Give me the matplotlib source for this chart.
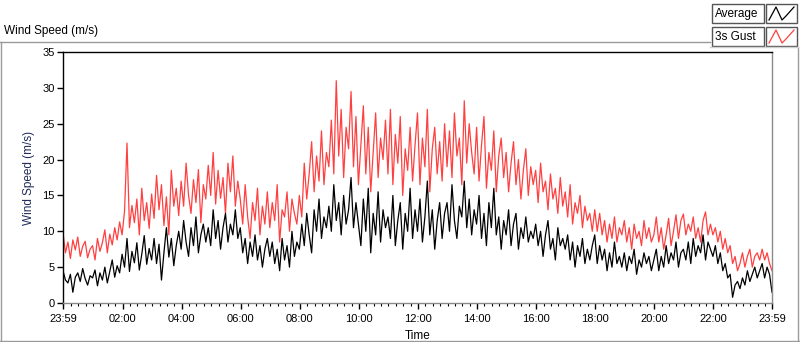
import numpy as np
import matplotlib
matplotlib.use("Agg")
import matplotlib.pyplot as plt
from matplotlib.lines import Line2D
from matplotlib.patches import Rectangle

plt.rcParams['font.family'] = ['Liberation Sans', 'DejaVu Sans']

# 3s gust, one value every 5 minutes from 23:59 (one row per hour)
gust = [
    9.8, 7.0, 8.5, 6.2, 8.8, 7.4, 9.2, 6.5, 7.9, 8.6, 6.3, 7.5,
    8.0, 6.0, 9.0, 7.2, 8.4, 10.2, 7.0, 9.6, 8.1, 10.5, 8.8, 11.3,
    9.5, 12.8, 22.3, 10.5, 13.6, 11.2, 14.5, 9.5, 16.0, 11.5, 14.0, 10.4,
    15.2, 11.8, 17.8, 13.0, 16.5, 10.8, 14.8, 9.5, 18.5, 13.5, 16.0, 12.2,
    17.0, 13.5, 19.5, 15.0, 12.5, 17.2, 14.0, 18.6, 11.2, 16.5, 14.5, 19.2,
    15.0, 21.0, 13.8, 18.5, 14.6, 17.5, 12.5, 19.5, 15.5, 20.5, 13.5, 17.0,
    14.5, 11.0, 16.5, 12.0, 9.0, 14.0, 11.5, 16.0, 9.5, 13.5, 11.0, 15.5,
    10.5, 14.0, 11.5, 16.5, 8.5, 13.0, 12.0, 15.5, 10.0, 14.5, 12.5, 11.0,
    15.0, 12.0, 19.5, 14.5, 18.0, 22.5, 15.5, 20.5, 17.0, 24.0, 16.5, 21.0,
    19.0, 25.5, 18.0, 31.0, 20.5, 27.0, 17.5, 24.5, 21.5, 29.5, 19.0, 26.0,
    16.5, 22.0, 27.5, 18.0, 24.5, 15.5, 21.0, 26.5, 17.5, 23.0, 20.0, 25.5,
    18.0, 27.0, 16.5, 23.5, 19.5, 26.0, 15.0, 21.5, 18.5, 24.5, 17.0, 22.0,
    26.5, 16.5, 23.0, 19.0, 27.0, 15.5, 21.5, 24.5, 18.0, 22.5, 17.0, 25.0,
    19.0, 24.0, 17.5, 26.5, 20.5, 23.0, 16.5, 28.2, 19.5, 25.0, 21.0, 18.0,
    24.5, 17.0, 22.0, 26.0, 16.0, 21.0, 18.5, 24.0, 15.5, 20.5, 23.0, 17.5,
    21.0, 15.5, 19.5, 22.5, 16.5, 20.0, 14.5, 18.5, 21.5, 15.0, 19.0, 16.5,
    18.5, 14.0, 19.5, 15.5, 17.0, 13.0, 18.0, 14.5, 16.0, 12.5, 17.5, 13.5,
    15.5, 12.0, 16.5, 11.0, 14.0, 12.5, 15.0, 10.5, 13.5, 11.5, 12.5, 10.0,
    13.0, 10.0, 12.5, 9.5, 11.5, 8.5, 11.0, 9.0, 12.0, 8.5, 10.5, 9.5,
    11.5, 8.5, 10.5, 7.5, 11.0, 9.0, 10.0, 8.0, 11.5, 9.0, 10.5, 8.5,
    9.5, 12.0, 8.5, 10.5, 7.5, 9.5, 11.8, 8.0, 10.0, 12.3, 9.0, 11.5,
    12.4, 9.5, 11.0, 10.0, 12.0, 9.0, 10.5, 8.5, 11.5, 12.7, 9.5, 11.0,
    9.5, 10.5, 8.5, 10.0, 7.5, 9.0, 7.0, 8.0, 5.5, 6.5, 4.5, 5.5,
    7.0, 5.0, 6.5, 7.5, 5.0, 6.5, 7.0, 6.0, 7.5, 6.0, 7.0, 5.5,
    4.5,
]

# 1 minute average, same time steps
average = [
    4.5, 3.2, 2.8, 4.0, 1.5, 3.6, 4.2, 3.0, 4.8, 3.4, 2.5, 3.8,
    3.5, 4.6, 2.4, 4.2, 3.2, 5.0, 2.8, 4.4, 6.0, 3.6, 5.2, 4.2,
    6.8, 5.0, 9.0, 4.4, 7.2, 5.6, 8.4, 4.6, 6.8, 9.4, 5.4, 7.6,
    6.0, 9.0, 5.5, 8.2, 3.2, 7.0, 10.5, 6.4, 9.0, 5.2, 8.0, 10.0,
    7.5, 11.5, 8.5, 6.5, 10.5, 8.0, 12.0, 7.0, 9.5, 11.0, 8.5, 10.5,
    8.0, 13.0, 9.0, 11.5, 7.5, 10.5, 12.5, 8.5, 11.0, 9.5, 13.0, 9.0,
    10.5, 7.0, 9.0, 5.5, 8.5, 6.5, 9.5, 6.0, 8.0, 5.0, 7.5, 9.0,
    6.5, 8.5, 5.5, 7.5, 4.5, 9.0, 6.0, 8.0, 5.0, 10.0, 6.5, 8.5,
    7.5, 11.0, 8.0, 12.5, 9.5, 7.0, 13.0, 10.0, 14.5, 9.0, 12.0, 10.5,
    13.5, 10.0, 16.5, 11.5, 14.0, 9.5, 15.0, 11.0, 13.0, 17.5, 10.5, 14.0,
    11.0, 8.0, 14.5, 10.0, 16.0, 7.0, 12.5, 9.5, 15.5, 8.5, 13.0, 10.5,
    12.0, 9.0, 15.0, 8.0, 11.5, 14.0, 7.5, 12.5, 10.0, 16.0, 9.0, 13.0,
    10.0, 14.5, 8.5, 12.0, 17.0, 9.5, 13.0, 7.5, 11.5, 14.0, 9.0, 12.5,
    14.0, 10.0, 16.5, 11.5, 9.0, 13.5, 12.0, 17.0, 10.5, 14.5, 9.5, 13.0,
    11.0, 15.0, 9.0, 12.5, 8.0, 14.0, 10.5, 16.0, 9.5, 12.0, 7.5, 11.5,
    9.5, 13.0, 8.0, 11.0, 12.5, 7.5, 10.5, 9.0, 12.0, 8.5, 10.0, 9.0,
    11.0, 8.0, 10.0, 6.5, 9.5, 11.5, 7.5, 9.0, 6.0, 10.5, 8.0, 9.0,
    7.5, 9.5, 6.0, 8.5, 5.0, 8.0, 6.5, 9.0, 5.5, 7.5, 6.0, 8.0,
    9.5, 5.5, 8.0, 6.0, 7.5, 4.5, 7.0, 5.0, 8.5, 5.5, 6.5, 5.0,
    7.0, 4.5, 6.5, 5.5, 7.5, 4.0, 6.0, 5.0, 7.0, 5.5, 6.5, 4.5,
    6.0, 7.5, 4.5, 6.5, 5.0, 8.0, 5.5, 7.0, 6.0, 8.5, 5.0, 7.0,
    7.5, 6.0, 8.5, 5.5, 9.0, 6.5, 8.0, 7.0, 9.5, 6.0, 8.5, 7.5,
    6.5, 8.0, 5.5, 7.0, 4.5, 5.5, 3.5, 4.0, 0.8, 2.5, 3.0, 2.0,
    3.5, 2.5, 4.5, 3.0, 4.0, 5.0, 3.5, 4.5, 5.5, 3.5, 5.0, 4.0,
    1.5,
]

step_min = 5
tick_labels = ["23:59", "02:00", "04:00", "06:00", "08:00", "10:00", "12:00",
               "14:00", "16:00", "18:00", "20:00", "22:00", "23:59"]

# hours elapsed since 23:59
t = np.arange(len(gust)) * step_min / 60.0

W, H = 800, 342
fig = plt.figure(figsize=(W / 100, H / 100), dpi=100)
fig.patch.set_facecolor("white")

def fx(px):
    return px / W

def fy(py):
    return 1 - py / H

ax = fig.add_axes([fx(63), fy(303), fx(772) - fx(63), fy(52) - fy(303)])
ax.plot(t, gust, color="#ff4040", lw=0.9)
ax.plot(t, average, color="black", lw=0.9)

ax.set_xlim(0, 24)
ax.set_ylim(0, 35)
ax.set_yticks(np.arange(0, 36, 5))
major = [0] + [2 * k + 1 / 60 for k in range(1, 12)] + [24]
ax.set_xticks(major)
ax.set_xticklabels(tick_labels)
ax.set_xticks([1 / 60 + 0.25 * k for k in range(96)], minor=True)
ax.tick_params(axis="both", which="major", labelsize=8, length=4, width=1,
               direction="out", pad=2)
ax.tick_params(axis="x", which="major", pad=4)
ax.tick_params(axis="x", which="minor", length=2.5, width=0.8, direction="out")
for side in ["left", "top"]:
    ax.spines[side].set_color("black")
for side in ["right", "bottom"]:
    ax.spines[side].set_color("#8a8a8a")
for s in ax.spines.values():
    s.set_linewidth(1)

ax.set_xlabel("Time", fontsize=8.5, labelpad=4)
ax.set_ylabel("Wind Speed (m/s)", fontsize=8.5, color="#1f2a5a", labelpad=5)

# chart title and panel frame
fig.text(fx(4), fy(31), "Wind Speed (m/s)", fontsize=8.5, va="center", ha="left")
gray = "#9a9a9a"
fig.add_artist(Line2D([fx(0), fx(710)], [fy(42), fy(42)], color=gray, lw=1))
fig.add_artist(Line2D([fx(0.5), fx(0.5)], [fy(42), fy(341)], color=gray, lw=1))
fig.add_artist(Line2D([fx(0), fx(799)], [fy(341), fy(341)], color=gray, lw=1))
fig.add_artist(Line2D([fx(798), fx(798)], [fy(47), fy(341)], color=gray, lw=1))
fig.add_artist(Line2D([fx(710), fx(798)], [fy(47), fy(47)], color="#d0d0d0", lw=1))

# legend boxes
legend = [("Average", "black", 4), ("3s Gust", "#ff4040", 27)]
for name, col, top in legend:
    fig.add_artist(Rectangle((fx(712), fy(top + 19)), fx(52), fy(top) - fy(top + 19),
                             facecolor="white", edgecolor="#555555", lw=1))
    fig.text(fx(715), fy(top + 9.5), name, fontsize=8.5, va="center", ha="left")
    fig.add_artist(Rectangle((fx(766), fy(top + 19)), fx(31), fy(top) - fy(top + 19),
                             facecolor="white", edgecolor="#555555", lw=1))
    zx = [fx(v) for v in (769, 776, 782, 786, 794)]
    zy = [fy(v) for v in (top + 16, top + 3, top + 16, top + 12, top + 3)]
    fig.add_artist(Line2D(zx, zy, color=col, lw=0.9))

fig.savefig("out.png", dpi=100)
